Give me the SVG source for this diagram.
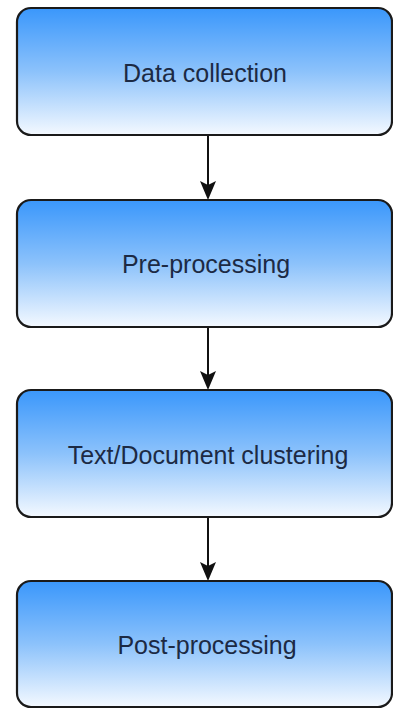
<svg xmlns="http://www.w3.org/2000/svg" width="393" height="709" viewBox="0 0 393 709">
<style>
.box{fill:url(#g);stroke:#1a1a1a;stroke-width:2.2}
.lbl{font-family:"Liberation Sans",Arial,sans-serif;font-size:25px;fill:#1c2a44;text-anchor:middle;dominant-baseline:central}
.edge{stroke:#111;stroke-width:2;fill:none}
.head{fill:#111}
</style>
<defs>
<linearGradient id="g" x1="0" y1="0" x2="0" y2="1">
<stop offset="0" stop-color="#3a97fb"/>
<stop offset="0.5" stop-color="#8cc2fb"/>
<stop offset="1" stop-color="#f4f9ff"/>
</linearGradient>
</defs>
<rect width="393" height="709" fill="#ffffff"/>
<g id="connectors">
<line class="edge" x1="208" y1="136" x2="208" y2="188"/>
<polygon class="head" points="208,200 200,181 208,185 216,181"/>
<line class="edge" x1="208" y1="327" x2="208" y2="378"/>
<polygon class="head" points="208,390 200,371 208,375 216,371"/>
<line class="edge" x1="208" y1="517" x2="208" y2="569"/>
<polygon class="head" points="208,581 200,562 208,566 216,562"/>
</g>
<g id="node1">
<rect class="box" x="17" y="8" width="375" height="127" rx="14"/>
<text class="lbl" x="205" y="73">Data collection</text>
</g>
<g id="node2">
<rect class="box" x="17" y="200" width="375" height="127" rx="14"/>
<text class="lbl" x="206" y="264">Pre-processing</text>
</g>
<g id="node3">
<rect class="box" x="17" y="390" width="375" height="127" rx="14"/>
<text class="lbl" x="208" y="455">Text/Document clustering</text>
</g>
<g id="node4">
<rect class="box" x="17" y="581" width="375" height="126" rx="14"/>
<text class="lbl" x="207" y="645">Post-processing</text>
</g>
</svg>
